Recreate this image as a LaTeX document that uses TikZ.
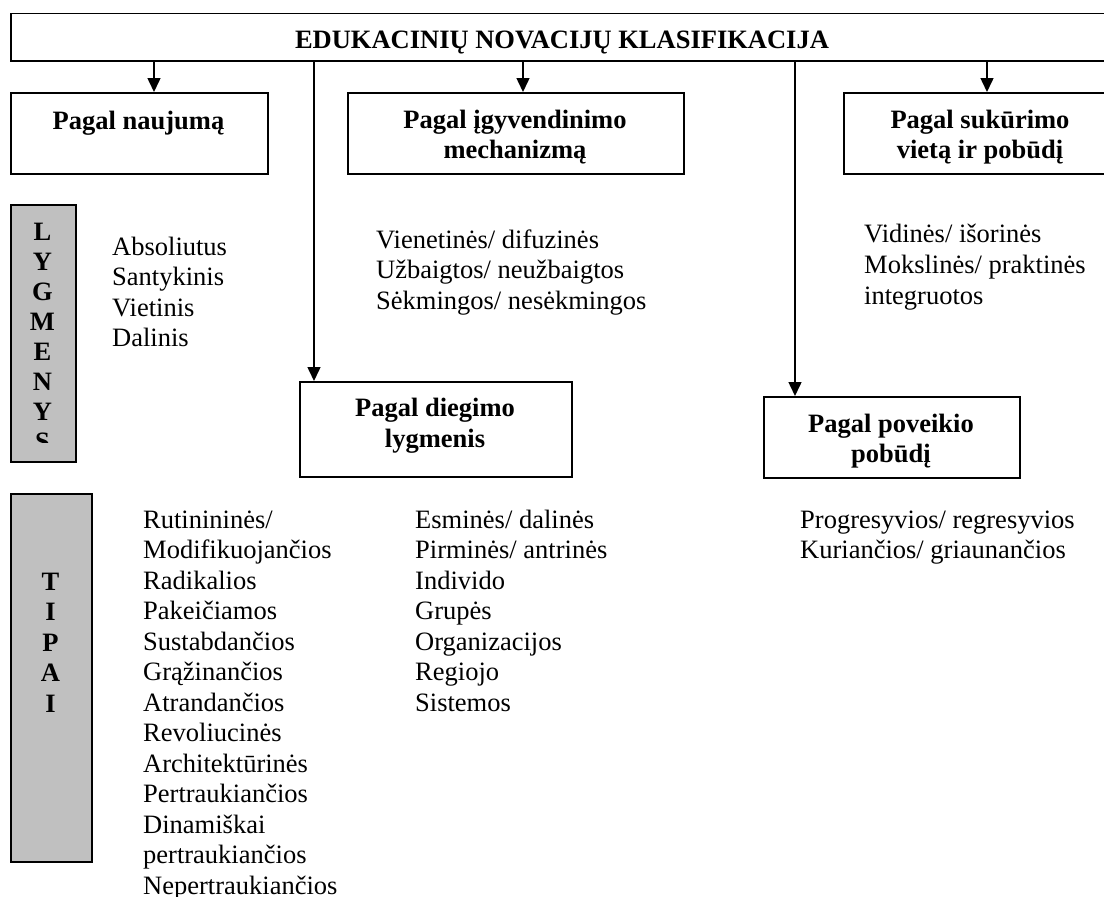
\documentclass[tikz,border=0pt]{standalone}
\usepackage{fontspec}
\setmainfont{Liberation Serif}
\usetikzlibrary{arrows.meta}
\definecolor{boxgray}{RGB}{192,192,192}
\tikzset{
  box/.style={draw, line width=1.5pt, rectangle, inner sep=0pt, anchor=north west},
  graybox/.style={box, fill=boxgray},
  lbl/.style={font=\fontsize{26.5}{30.5}\selectfont\bfseries, anchor=base, inner sep=0pt},
  itm/.style={font=\fontsize{26.5}{30.5}\selectfont, anchor=base west, inner sep=0pt},
  conn/.style={line width=1.5pt},
  arr/.style={conn, -{Triangle[width=13pt,length=14pt]}},
}
\begin{document}
\begin{tikzpicture}[x=1pt,y=-1pt]
\useasboundingbox (0,0) rectangle (1104,897);
\fill[white] (0,0) rectangle (1104,897);
\clip (0,0) rectangle (1104,897);

% boxes
\node[box, minimum width=1110pt, minimum height=47.3pt] (top) at (10,12.7) {};
\node[box, minimum width=257pt, minimum height=81pt] (naujuma) at (10,92) {};
\node[box, minimum width=336pt, minimum height=81pt] (igyv) at (347,92) {};
\node[box, minimum width=280pt, minimum height=81pt] (sukur) at (843,92) {};
\node[box, minimum width=272pt, minimum height=95pt] (diegimo) at (299,381) {};
\node[box, minimum width=256pt, minimum height=81pt] (poveikio) at (763,396) {};
\node[graybox, minimum width=65pt, minimum height=257pt] (lygbox) at (10,204) {};
\node[graybox, minimum width=81pt, minimum height=368pt] (tipbox) at (10,493) {};

% connectors
\coordinate (c1) at (154,0);
\coordinate (c2) at (523,0);
\coordinate (c3) at (987,0);
\coordinate (c4) at (314,0);
\coordinate (c5) at (795,0);
\draw[arr] (c1 |- top.south) -- (c1 |- naujuma.north);
\draw[arr] (c2 |- top.south) -- (c2 |- igyv.north);
\draw[arr] (c3 |- top.south) -- (c3 |- sukur.north);
\draw[arr] (c4 |- top.south) -- (c4 |- diegimo.north);
\draw[arr] (c5 |- top.south) -- (c5 |- poveikio.north);

% box labels
\node[lbl] (title) at (562,48) {EDUKACINIŲ NOVACIJŲ KLASIFIKACIJA};
\node[lbl] (t1) at (138.5,129) {Pagal naujumą};
\node[lbl] (t2a) at (515,128) {Pagal įgyvendinimo};
\node[lbl] (t2b) at (515,158) {mechanizmą};
\node[lbl] (t3a) at (980,128) {Pagal sukūrimo};
\node[lbl] (t3b) at (980,158) {vietą ir pobūdį};
\node[lbl] (t4a) at (435,416) {Pagal diegimo};
\node[lbl] (t4b) at (435,447) {lygmenis};
\node[lbl] (t5a) at (891,432) {Pagal poveikio};
\node[lbl] (t5b) at (891,462) {pobūdį};

% vertical words
\begin{scope}
\clip (10,204) rectangle (75,442);
\foreach \c [count=\i from 0] in {L,Y,G,M,E,N,Y,S}
  \node[lbl] (lg\i) at (42.5,240+30*\i) {\c};
\end{scope}
\foreach \c [count=\i from 0] in {T,I,P,A,I}
  \node[lbl] (tp\i) at (50.5,590+30.5*\i) {\c};

% lists
\foreach \t [count=\i from 0] in {Absoliutus,Santykinis,Vietinis,Dalinis}
  \node[itm] (la\i) at (112,255+30.5*\i) {\t};
\foreach \t [count=\i from 0] in {Vienetinės/ difuzinės,Užbaigtos/ neužbaigtos,Sėkmingos/ nesėkmingos}
  \node[itm] (lb\i) at (376,248+30.5*\i) {\t};
\foreach \t [count=\i from 0] in {Vidinės/ išorinės,Mokslinės/ praktinės,integruotos}
  \node[itm] (lc\i) at (864,242+31*\i) {\t};
\foreach \t [count=\i from 0] in {Rutinininės/,Modifikuojančios,Radikalios,Pakeičiamos,Sustabdančios,Grąžinančios,Atrandančios,Revoliucinės,Architektūrinės,Pertraukiančios,Dinamiškai,pertraukiančios,Nepertraukiančios}
  \node[itm] (ld\i) at (143,528+30.5*\i) {\t};
\foreach \t [count=\i from 0] in {Esminės/ dalinės,Pirminės/ antrinės,Individo,Grupės,Organizacijos,Regiojo,Sistemos}
  \node[itm] (le\i) at (415,528+30.5*\i) {\t};
\foreach \t [count=\i from 0] in {Progresyvios/ regresyvios,Kuriančios/ griaunančios}
  \node[itm] (lf\i) at (800,528+30.5*\i) {\t};
\end{tikzpicture}
\end{document}
